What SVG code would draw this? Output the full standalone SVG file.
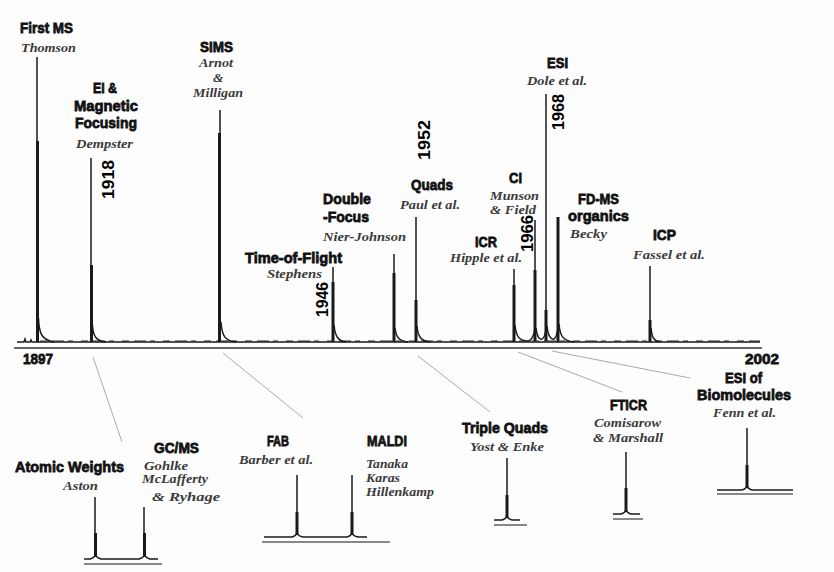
<svg xmlns="http://www.w3.org/2000/svg" width="834" height="572" viewBox="0 0 834 572">
<style>
.b{font-family:"Liberation Sans",Arial,sans-serif;font-weight:bold;font-size:15.5px;fill:#111;stroke:#111;stroke-width:0.8}
.i{font-family:"Liberation Serif","Times New Roman",serif;font-style:italic;font-weight:bold;font-size:13.5px;fill:#3a3a3a}
.s{font-size:12.5px}
.y{font-family:"Liberation Sans",Arial,sans-serif;font-weight:bold;font-size:17px;fill:#000}
.pk{stroke:#1a1a1a;stroke-width:1.5;fill:none}
.pt{stroke:#1a1a1a;stroke-width:3;fill:none}
.ax{stroke:#666;stroke-width:2;fill:none}
.ax2{stroke:#888;stroke-width:2;fill:none}
.cn{stroke:#aaa;stroke-width:1;fill:none}
</style>
<rect width="834" height="572" fill="#fdfdfd"/>

<g id="spectrum">
<path class="pk" d="M17 342 L24 342 L25 339 L26 342 L30 342 L31 340 L32 342 L760 342" stroke-width="2"/>
<path d="M40 341 L760 341" stroke="#222" stroke-width="1" stroke-dasharray="7 5 12 4 5 8" fill="none"/>
<line class="ax" x1="14" y1="348" x2="762" y2="348"/>
<text class="b" x="23" y="364" textLength="30" lengthAdjust="spacingAndGlyphs">1897</text>
<text class="b" x="745" y="364" textLength="34" lengthAdjust="spacingAndGlyphs">2002</text>
</g>

<g id="first-ms">
<text class="b" x="20" y="33" textLength="53" lengthAdjust="spacingAndGlyphs">First MS</text>
<text class="i" x="21" y="52" textLength="55" lengthAdjust="spacingAndGlyphs">Thomson</text>
<line class="pk" x1="37" y1="57" x2="37" y2="342"/>
<line class="pt" x1="37.5" y1="141" x2="37.5" y2="342"/>
<path class="pk" d="M38.5 318 C39 334 42 340 54 342"/>
</g>

<g id="ei">
<text class="b" x="93" y="93" textLength="24" lengthAdjust="spacingAndGlyphs">EI &amp;</text>
<text class="b" x="74" y="111" textLength="64" lengthAdjust="spacingAndGlyphs">Magnetic</text>
<text class="b" x="75" y="128" textLength="62" lengthAdjust="spacingAndGlyphs">Focusing</text>
<text class="i" x="76" y="148" textLength="57" lengthAdjust="spacingAndGlyphs">Dempster</text>
<text class="y" transform="translate(114,199) rotate(-90)" textLength="39" lengthAdjust="spacingAndGlyphs">1918</text>
<line class="pk" x1="91" y1="158" x2="91" y2="342"/>
<line class="pt" x1="91.5" y1="265" x2="91.5" y2="342"/>
<path class="pk" d="M92.5 325 C93 336 96 341 106 342"/>
</g>

<g id="sims">
<text class="b" x="200" y="52" textLength="33" lengthAdjust="spacingAndGlyphs">SIMS</text>
<text class="i" x="199" y="67" textLength="34" lengthAdjust="spacingAndGlyphs">Arnot</text>
<text class="i" x="213" y="82">&amp;</text>
<text class="i" x="193" y="97" textLength="50" lengthAdjust="spacingAndGlyphs">Milligan</text>
<line class="pk" x1="220" y1="110" x2="220" y2="342"/>
<line class="pt" x1="219.5" y1="133" x2="219.5" y2="342"/>
<path class="pk" d="M221 322 C222 336 225 341 236 342"/>
</g>

<g id="tof">
<text class="b" x="245" y="263" textLength="97" lengthAdjust="spacingAndGlyphs">Time-of-Flight</text>
<text class="i" x="267" y="278" textLength="55" lengthAdjust="spacingAndGlyphs">Stephens</text>
<text class="y" transform="translate(328,317) rotate(-90)" textLength="35" lengthAdjust="spacingAndGlyphs">1946</text>
<line class="pk" x1="333" y1="267" x2="333" y2="342"/>
<line class="pt" x1="333" y1="282" x2="333" y2="342"/>
<path class="pk" d="M334 325 C335 336 338 341 346 342"/>
</g>

<g id="double-focus">
<text class="b" x="323" y="204" textLength="48" lengthAdjust="spacingAndGlyphs">Double</text>
<text class="b" x="323" y="222" textLength="46" lengthAdjust="spacingAndGlyphs">-Focus</text>
<text class="i" x="323" y="241" textLength="83" lengthAdjust="spacingAndGlyphs">Nier-Johnson</text>
<line class="pk" x1="394" y1="254" x2="394" y2="342"/>
<line class="pt" x1="394" y1="273" x2="394" y2="342"/>
<path class="pk" d="M395 328 C396 337 399 341 408 342"/>
</g>

<g id="quads">
<text class="b" x="411" y="190" textLength="42" lengthAdjust="spacingAndGlyphs">Quads</text>
<text class="i" x="400" y="209" textLength="60" lengthAdjust="spacingAndGlyphs">Paul et al.</text>
<text class="y" transform="translate(430,160) rotate(-90)" textLength="40" lengthAdjust="spacingAndGlyphs">1952</text>
<line class="pk" x1="416" y1="217" x2="416" y2="342"/>
<line class="pt" x1="416" y1="300" x2="416" y2="342"/>
<path class="pk" d="M417 326 C418 337 421 341 430 342"/>
</g>

<g id="icr">
<text class="b" x="475" y="247" textLength="22" lengthAdjust="spacingAndGlyphs">ICR</text>
<text class="i" x="450" y="262" textLength="72" lengthAdjust="spacingAndGlyphs">Hipple et al.</text>
<line class="pk" x1="514" y1="269" x2="514" y2="342"/>
<line class="pt" x1="514" y1="285" x2="514" y2="342"/>
<path class="pk" d="M515 325 C516 336 519 341 528 341"/>
</g>

<g id="ci">
<text class="b" x="509" y="183" textLength="13" lengthAdjust="spacingAndGlyphs">CI</text>
<text class="i s" x="490" y="200" textLength="49" lengthAdjust="spacingAndGlyphs">Munson</text>
<text class="i s" x="490" y="214" textLength="46" lengthAdjust="spacingAndGlyphs">&amp; Field</text>
<text class="y" transform="translate(533,252) rotate(-90)" textLength="37" lengthAdjust="spacingAndGlyphs">1966</text>
<line class="pk" x1="535" y1="220" x2="535" y2="341"/>
<line class="pt" x1="535" y1="270" x2="535" y2="341"/>
<path class="pk" d="M528 341 C531 341 533 338 535 330 M536 328 C537 336 539 340 542 339"/>
</g>

<g id="esi">
<text class="b" x="547" y="68" textLength="21" lengthAdjust="spacingAndGlyphs">ESI</text>
<text class="i" x="527" y="85" textLength="60" lengthAdjust="spacingAndGlyphs">Dole et al.</text>
<text class="y" transform="translate(564,130) rotate(-90)" textLength="36" lengthAdjust="spacingAndGlyphs">1968</text>
<line class="pk" x1="546" y1="94" x2="546" y2="341"/>
<line class="pt" x1="546" y1="310" x2="546" y2="341"/>
<path class="pk" d="M542 339 C544 338 545 336 546 330 M547 326 C548 336 551 340 554 339"/>
</g>

<g id="fd-ms">
<text class="b" x="578" y="204" textLength="41" lengthAdjust="spacingAndGlyphs">FD-MS</text>
<text class="b" x="568" y="221" textLength="61" lengthAdjust="spacingAndGlyphs">organics</text>
<text class="i" x="570" y="238" textLength="37" lengthAdjust="spacingAndGlyphs">Becky</text>
<line class="pt" x1="558" y1="217" x2="558" y2="342"/>
<path class="pk" d="M554 339 C556 338 557 335 558 328 M559 324 C560 336 563 341 574 342"/>
</g>

<g id="icp">
<text class="b" x="653" y="240" textLength="23" lengthAdjust="spacingAndGlyphs">ICP</text>
<text class="i" x="633" y="259" textLength="72" lengthAdjust="spacingAndGlyphs">Fassel et al.</text>
<line class="pk" x1="650" y1="266" x2="650" y2="342"/>
<line class="pt" x1="650" y1="320" x2="650" y2="342"/>
<path class="pk" d="M651 328 C652 338 654 341 660 342"/>
</g>

<g id="atomic-gcms">
<text class="b" x="15" y="472" textLength="109" lengthAdjust="spacingAndGlyphs">Atomic Weights</text>
<text class="i" x="63" y="490" textLength="35" lengthAdjust="spacingAndGlyphs">Aston</text>
<text class="b" x="154" y="453" textLength="45" lengthAdjust="spacingAndGlyphs">GC/MS</text>
<text class="i s" x="144" y="470" font-size="12" textLength="44" lengthAdjust="spacingAndGlyphs">Gohlke</text>
<text class="i s" x="142" y="483" font-size="12" textLength="66" lengthAdjust="spacingAndGlyphs">McLafferty</text>
<text class="i" x="152" y="501" font-size="17" textLength="68" lengthAdjust="spacingAndGlyphs">&amp; Ryhage</text>
<line class="pk" x1="95" y1="497" x2="95" y2="557"/>
<line class="pt" x1="95.5" y1="533" x2="95.5" y2="557"/>
<line class="pk" x1="144" y1="507" x2="144" y2="557"/>
<line class="pt" x1="144.5" y1="533" x2="144.5" y2="557"/>
<path class="pk" d="M84 559 L90 559 Q94 558 95.5 555 Q97 558 101 559 L139 559 Q143 558 144.5 555 Q146 558 150 559 L158 559"/>
<line class="ax2" x1="84" y1="564" x2="162" y2="564"/>
</g>

<g id="fab-maldi">
<text class="b" x="267" y="446" textLength="22" lengthAdjust="spacingAndGlyphs">FAB</text>
<text class="i" x="239" y="464" textLength="74" lengthAdjust="spacingAndGlyphs">Barber et al.</text>
<text class="b" x="367" y="446" textLength="40" lengthAdjust="spacingAndGlyphs">MALDI</text>
<text class="i s" x="366" y="468" font-size="12" textLength="42" lengthAdjust="spacingAndGlyphs">Tanaka</text>
<text class="i s" x="366" y="482" font-size="12" textLength="34" lengthAdjust="spacingAndGlyphs">Karas</text>
<text class="i s" x="366" y="496" font-size="12" textLength="68" lengthAdjust="spacingAndGlyphs">Hillenkamp</text>
<line class="pk" x1="297" y1="475" x2="297" y2="535"/>
<line class="pt" x1="297" y1="512" x2="297" y2="535"/>
<line class="pk" x1="352" y1="475" x2="352" y2="535"/>
<line class="pt" x1="352" y1="512" x2="352" y2="535"/>
<path class="pk" d="M264 537 L292 537 Q296 536 297 533 Q298 536 303 537 L347 537 Q351 536 352 533 Q353 536 358 537 L367 537"/>
<line class="ax2" x1="262" y1="542" x2="390" y2="542"/>
</g>

<g id="triple-quads">
<text class="b" x="462" y="433" textLength="86" lengthAdjust="spacingAndGlyphs">Triple Quads</text>
<text class="i" x="470" y="451" textLength="74" lengthAdjust="spacingAndGlyphs">Yost &amp; Enke</text>
<line class="pk" x1="507" y1="458" x2="507" y2="518"/>
<line class="pt" x1="507" y1="495" x2="507" y2="518"/>
<path class="pk" d="M494 520 L502 520 Q506 519 507 516 Q508 519 512 520 L520 520"/>
<line class="ax2" x1="494" y1="525" x2="527" y2="525"/>
</g>

<g id="fticr">
<text class="b" x="610" y="410" textLength="37" lengthAdjust="spacingAndGlyphs">FTICR</text>
<text class="i" x="594" y="427" textLength="67" lengthAdjust="spacingAndGlyphs">Comisarow</text>
<text class="i" x="593" y="442" textLength="70" lengthAdjust="spacingAndGlyphs">&amp; Marshall</text>
<line class="pk" x1="626" y1="452" x2="626" y2="512"/>
<line class="pt" x1="626" y1="488" x2="626" y2="512"/>
<path class="pk" d="M613 514 L621 514 Q625 513 626 510 Q627 513 631 514 L640 514"/>
<line class="ax2" x1="613" y1="519" x2="643" y2="519"/>
</g>

<g id="esi-bio">
<text class="b" x="725" y="383" textLength="37" lengthAdjust="spacingAndGlyphs">ESI of</text>
<text class="b" x="697" y="400" textLength="94" lengthAdjust="spacingAndGlyphs">Biomolecules</text>
<text class="i" x="713" y="417" textLength="63" lengthAdjust="spacingAndGlyphs">Fenn et al.</text>
<line class="pk" x1="747" y1="428" x2="747" y2="488"/>
<line class="pt" x1="747" y1="465" x2="747" y2="488"/>
<path class="pk" d="M717 490 L742 490 Q746 489 747 486 Q748 489 752 490 L793 490"/>
<line class="ax2" x1="717" y1="494" x2="793" y2="494"/>
</g>

<g id="connectors">
<line class="cn" x1="93" y1="357" x2="122" y2="442"/>
<line class="cn" x1="223" y1="353" x2="303" y2="418"/>
<line class="cn" x1="418" y1="356" x2="490" y2="412"/>
<line class="cn" x1="518" y1="352" x2="622" y2="392"/>
<line class="cn" x1="552" y1="351" x2="690" y2="378"/>
</g>
</svg>
